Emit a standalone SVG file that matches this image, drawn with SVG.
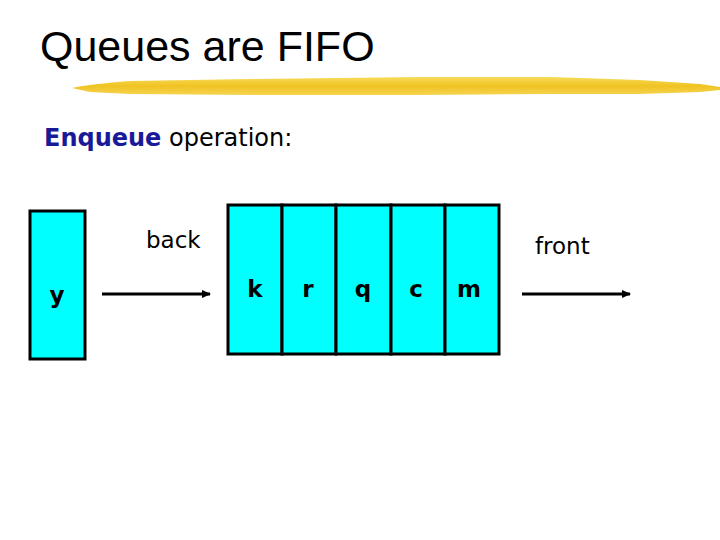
<svg xmlns="http://www.w3.org/2000/svg" width="720" height="540" viewBox="0 0 720 540">
<style>
  .cell { fill: #00ffff; stroke: #000; stroke-width: 3; }
  .lbl { font-family: "DejaVu Sans", Verdana, sans-serif; font-size: 23px; font-weight: bold; fill: #000; text-anchor: middle; }
  .txt { font-family: "DejaVu Sans", Verdana, sans-serif; font-size: 23px; fill: #000; }
  .conn { stroke: #000; stroke-width: 3; fill: none; marker-end: url(#ah); }
</style>
<defs>
  <marker id="ah" markerWidth="9" markerHeight="8" refX="8" refY="4" orient="auto" markerUnits="userSpaceOnUse">
    <path d="M0,0 L9,4 L0,8 Z" fill="#000"/>
  </marker>
  <linearGradient id="brush" x1="0" y1="0" x2="0" y2="1">
    <stop offset="0" stop-color="#f7dc5a"/>
    <stop offset="0.5" stop-color="#f0c323"/>
    <stop offset="1" stop-color="#f6d450"/>
  </linearGradient>
</defs>
<rect width="720" height="540" fill="#fff"/>
<text x="40" y="61" font-family="'Liberation Sans', Arial, sans-serif" font-size="43" fill="#000">Queues are FIFO</text>
<path d="M72,88 Q90,84 130,81 L250,79 L420,77 L550,77 L640,80 L700,84 L720,87 L720,90 L700,92 L640,94 L550,94 L420,95 L250,95 L130,94 L90,92 Z" fill="url(#brush)"/>
<text x="44" y="146" class="txt" style="font-size:24px"><tspan font-weight="bold" fill="#1a1a99">Enqueue</tspan> operation:</text>
<g id="node-y">
  <rect class="cell" x="30" y="211" width="55" height="148"/>
  <text class="lbl" x="57" y="303">y</text>
</g>
<g id="node-k">
  <rect class="cell" x="228" y="205" width="54" height="149"/>
  <text class="lbl" x="255" y="297">k</text>
</g>
<g id="node-r">
  <rect class="cell" x="282" y="205" width="54" height="149"/>
  <text class="lbl" x="308" y="297">r</text>
</g>
<g id="node-q">
  <rect class="cell" x="336" y="205" width="55" height="149"/>
  <text class="lbl" x="363" y="297">q</text>
</g>
<g id="node-c">
  <rect class="cell" x="391" y="205" width="54" height="149"/>
  <text class="lbl" x="416" y="297">c</text>
</g>
<g id="node-m">
  <rect class="cell" x="445" y="205" width="54" height="149"/>
  <text class="lbl" x="469" y="297">m</text>
</g>
<text class="txt" x="146" y="248">back</text>
<text class="txt" x="535" y="254">front</text>
<g id="connectors">
  <line class="conn" x1="102" y1="294" x2="210" y2="294"/>
  <line class="conn" x1="522" y1="294" x2="630" y2="294"/>
</g>
</svg>
